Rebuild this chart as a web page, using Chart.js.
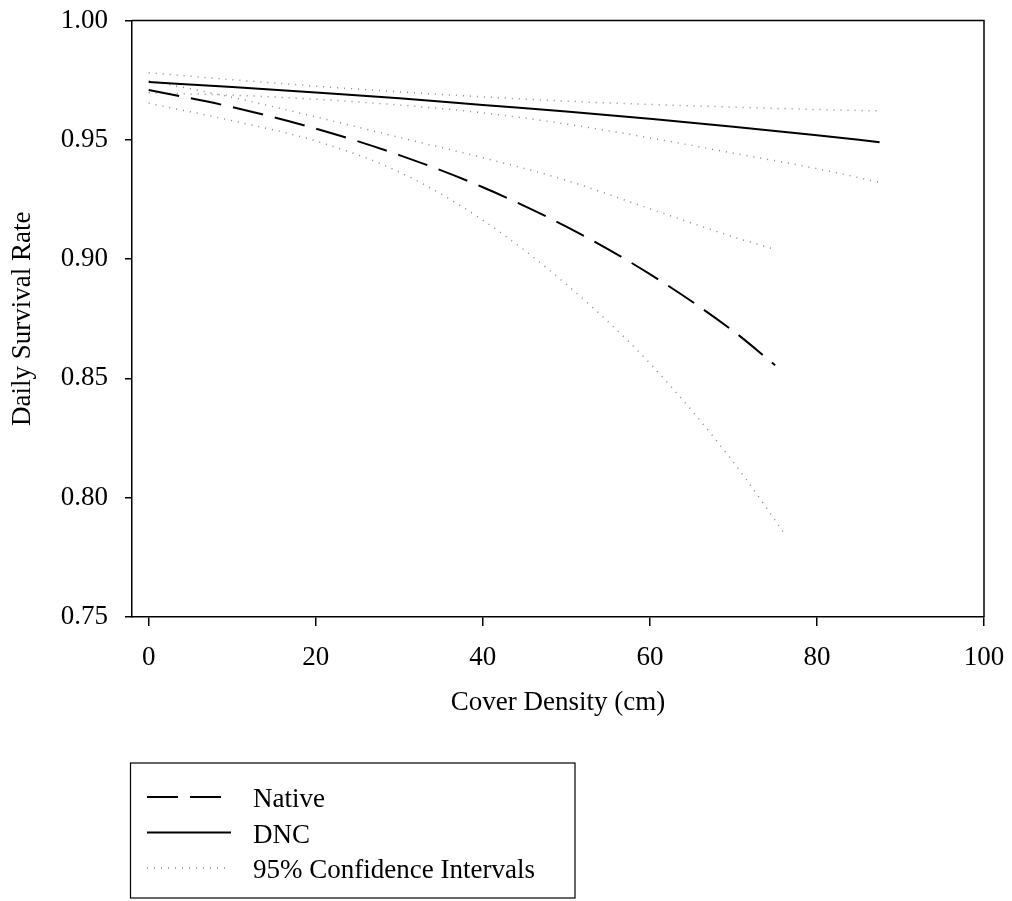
<!DOCTYPE html>
<html>
<head>
<meta charset="utf-8">
<script src="https://cdn.jsdelivr.net/npm/chart.js@4.4.1/dist/chart.umd.min.js"></script>
<style>
html, body { margin: 0; padding: 0; background: #fff; }
#wrap { width: 1012px; height: 901px; }
</style>
</head>
<body>
<div id="wrap"><canvas id="chart" width="1012" height="901"></canvas></div>
<script>
const FONT = "'Liberation Serif', 'Times New Roman', serif";

// values
const xTicks = [0, 20, 40, 60, 80, 100];

const nativeX = [0, 10, 20, 30, 40, 50, 60, 70, 75];
const nativeRate = [0.9709, 0.9637, 0.9547, 0.9436, 0.9301, 0.9136, 0.8937, 0.8698, 0.8555];
const nativeUpper = [0.9748, 0.9678, 0.9596, 0.9510, 0.9425, 0.9330, 0.9211, 0.9093, 0.9040];
const nativeLowerX = [0, 10, 20, 30, 40, 50, 60, 70, 76];
const nativeLower = [0.9653, 0.9580, 0.9495, 0.9365, 0.9163, 0.8894, 0.8563, 0.8149, 0.7855];

const dncX = [0, 10, 20, 30, 40, 50, 60, 70, 80, 87.5];
const dncRate = [0.9742, 0.9721, 0.9698, 0.9674, 0.9646, 0.9619, 0.9588, 0.9555, 0.9519, 0.9490];
const dncUpper = [0.9781, 0.9752, 0.9725, 0.9701, 0.9680, 0.9662, 0.9648, 0.9637, 0.9627, 0.9621];
const dncLower = [0.9697, 0.9687, 0.9670, 0.9646, 0.9613, 0.9566, 0.9508, 0.9444, 0.9379, 0.9322];

const pts = (xs, ys) => xs.map((x, i) => ({ x, y: ys[i] }));

const CI_STYLE = { borderColor: "#8a8a8a", borderWidth: 1.5, borderDash: [1, 6] };

function line(label, data, style) {
    return {
        label,
        data,
        showLine: true,
        pointRadius: 0,
        fill: false,
        cubicInterpolationMode: "monotone",
        ...style,
    };
}

const datasets = [
    line("Native", pts(nativeX, nativeRate), { borderColor: "#000", borderWidth: 2, borderDash: [31, 12] }),
    line("DNC", pts(dncX, dncRate), { borderColor: "#000", borderWidth: 2 }),
    line("Native upper", pts(nativeX, nativeUpper), CI_STYLE),
    line("Native lower", pts(nativeLowerX, nativeLower), CI_STYLE),
    line("DNC upper", pts(dncX, dncUpper), CI_STYLE),
    line("DNC lower", pts(dncX, dncLower), CI_STYLE),
];

// top and right edges of the plot frame
const frame = {
    id: "frame",
    afterDraw(chart) {
        const { ctx, chartArea: a } = chart;
        ctx.save();
        ctx.strokeStyle = "#000";
        ctx.lineWidth = 1.5;
        ctx.beginPath();
        ctx.moveTo(a.left, a.top);
        ctx.lineTo(a.right, a.top);
        ctx.lineTo(a.right, a.bottom);
        ctx.stroke();
        ctx.restore();
    },
};

// boxed legend under the plot
const legendBox = {
    id: "legendBox",
    afterDraw(chart, args, opts) {
        const ctx = chart.ctx;
        ctx.save();
        ctx.strokeStyle = "#000";
        ctx.lineWidth = 1.2;
        ctx.strokeRect(opts.left, opts.top, opts.width, opts.height);
        ctx.font = `27px ${FONT}`;
        ctx.textBaseline = "alphabetic";
        ctx.textAlign = "left";
        opts.items.forEach((item, i) => {
            const ds = chart.data.datasets[item.dataset];
            const base = opts.firstBaseline + i * opts.rowGap;
            ctx.strokeStyle = ds.borderColor;
            ctx.lineWidth = ds.borderWidth;
            ctx.setLineDash(ds.borderDash || []);
            ctx.beginPath();
            ctx.moveTo(opts.lineFrom, base - 10);
            ctx.lineTo(opts.lineTo, base - 10);
            ctx.stroke();
            ctx.setLineDash([]);
            ctx.fillStyle = "#000";
            ctx.fillText(item.text, opts.textX, base);
        });
        ctx.restore();
    },
};

new Chart(document.getElementById("chart").getContext("2d"), {
    type: "scatter",
    data: { datasets },
    plugins: [frame, legendBox],
    options: {
        responsive: false,
        animation: false,
        events: [],
        layout: { padding: { top: 20.5, right: 28, left: 0, bottom: 182 } },
        plugins: {
            legend: { display: false },
            tooltip: { enabled: false },
            legendBox: {
                left: 130.5, top: 763, width: 444.5, height: 135,
                lineFrom: 147, lineTo: 231, textX: 253,
                firstBaseline: 807, rowGap: 35.5,
                items: [
                    { dataset: 0, text: "Native" },
                    { dataset: 1, text: "DNC" },
                    { dataset: 2, text: "95% Confidence Intervals" },
                ],
            },
        },
        scales: {
            x: {
                type: "linear",
                min: -2,
                max: 100,
                afterBuildTicks: s => { s.ticks = xTicks.map(v => ({ value: v })); },
                afterFit: s => {
                    s.height = 901 - 182 - 617;
                    s.paddingLeft = 0;
                    s.paddingRight = 0;
                },
                grid: { drawOnChartArea: false, drawTicks: true, tickLength: 9, color: "#000", lineWidth: 1.5 },
                border: { display: true, color: "#000", width: 1.5 },
                ticks: { color: "#000", padding: 16, font: { family: FONT, size: 27 }, maxRotation: 0 },
                title: {
                    display: true, text: "Cover Density (cm)", color: "#000",
                    font: { family: FONT, size: 27 }, padding: { top: 0, bottom: 0 },
                },
            },
            y: {
                type: "linear",
                min: 0.75,
                max: 1.0,
                afterFit: s => {
                    s.width = 132;
                    s.paddingTop = 0;
                    s.paddingBottom = 0;
                },
                grid: { drawOnChartArea: false, drawTicks: true, tickLength: 7, color: "#000", lineWidth: 1.5 },
                border: { display: true, color: "#000", width: 1.5 },
                ticks: {
                    stepSize: 0.05, color: "#000", padding: 17,
                    font: { family: FONT, size: 27 },
                    callback: v => v.toFixed(2),
                },
                title: {
                    display: true, text: "Daily Survival Rate", color: "#000",
                    font: { family: FONT, size: 27 }, padding: { top: 7, bottom: 0 },
                },
            },
        },
    },
});
</script>
</body>
</html>
